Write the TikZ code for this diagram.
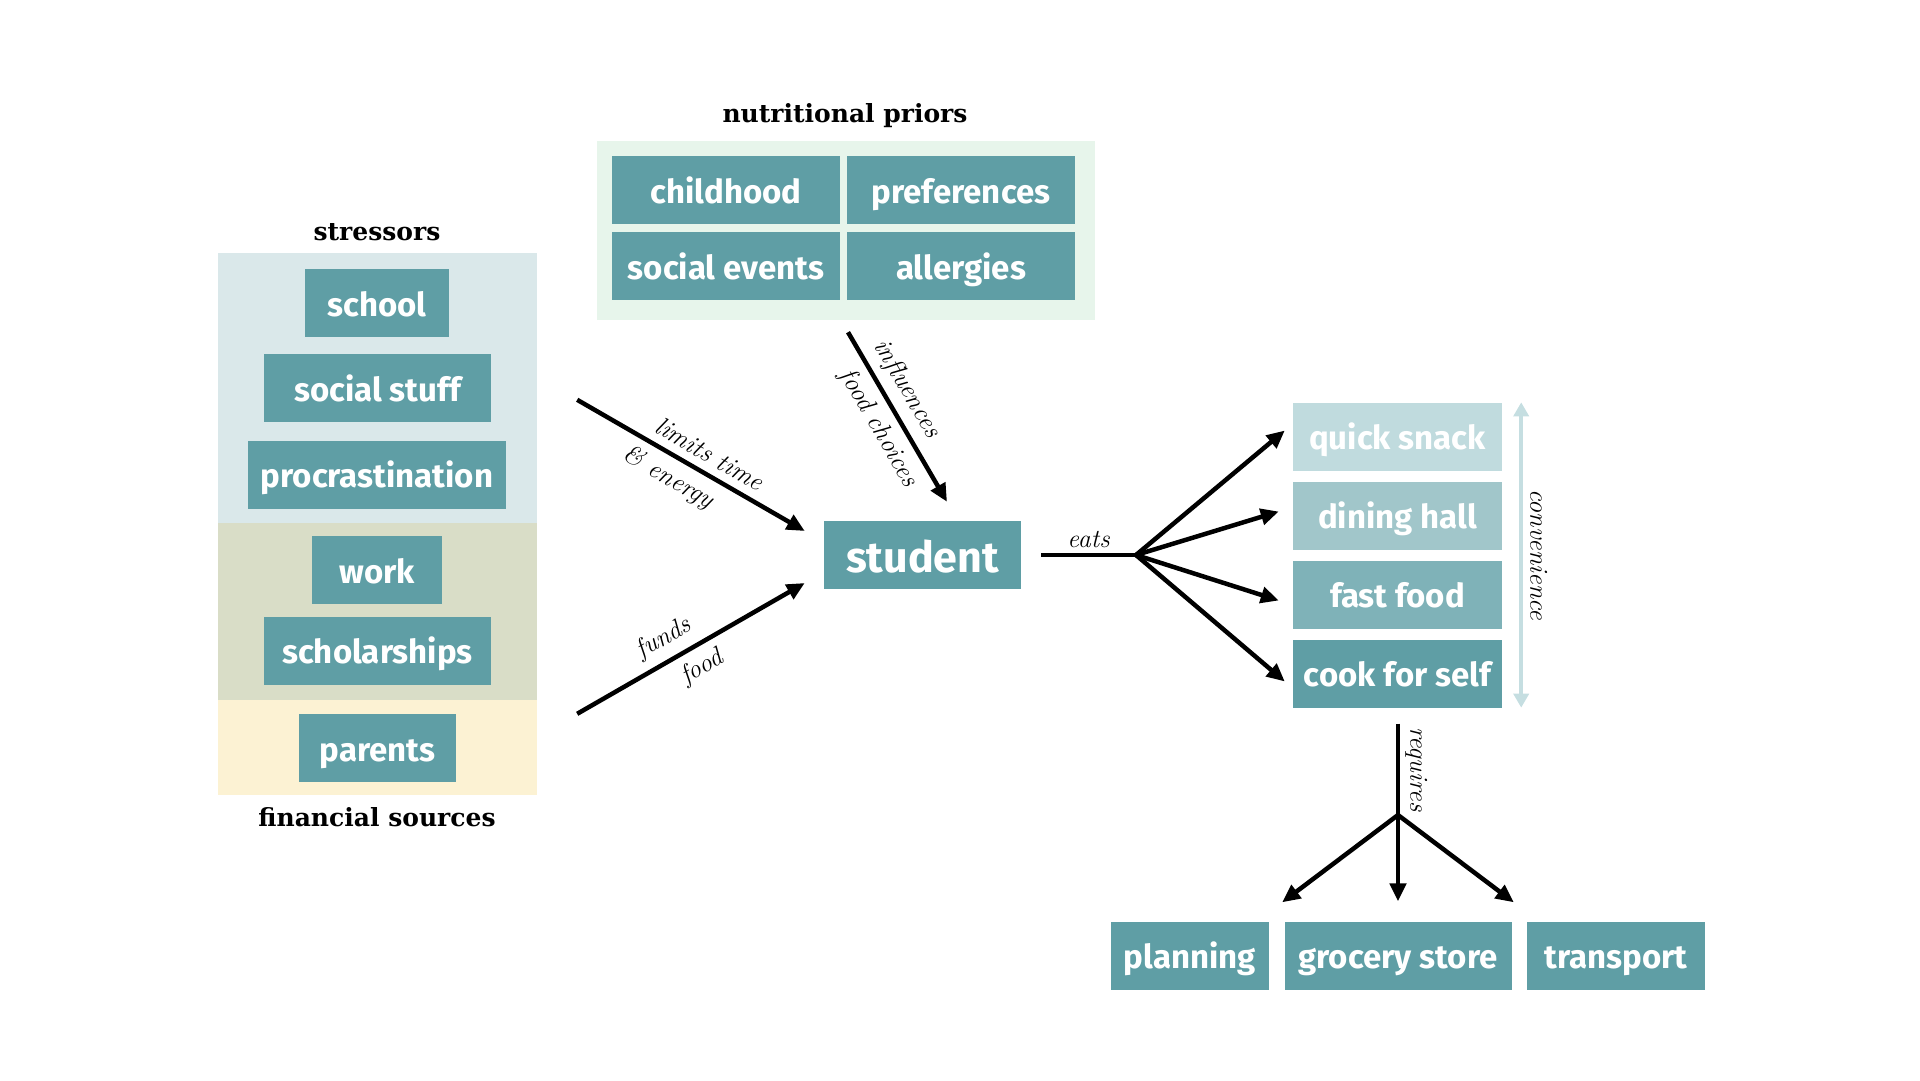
\documentclass[tikz,border=0pt]{standalone}
\usepackage{fontspec}
\usetikzlibrary{arrows.meta,calc}

\newfontfamily\boxfont{Fira Sans}
\newfontfamily\headfont{DejaVu Serif}

\definecolor{tealbox}{HTML}{5F9EA5}
\definecolor{snackbox}{HTML}{C0DBDE}
\definecolor{dinebox}{HTML}{A1C6CA}
\definecolor{fastbox}{HTML}{7FB2B8}
\definecolor{stressbg}{HTML}{DAE8EA}
\definecolor{workbg}{HTML}{D9DDC7}
\definecolor{parentbg}{HTML}{FCF2D3}
\definecolor{priorbg}{HTML}{E7F5EB}
\definecolor{convline}{HTML}{C5DEE1}

\begin{document}
\begin{tikzpicture}[x=1pt, y=-1pt,
    box/.style={fill=tealbox, text=white, inner sep=0pt, minimum height=68,
        text height=26pt, text depth=0pt,
        font=\boxfont\bfseries\fontsize{33}{38}\selectfont},
    band/.style={inner sep=0pt, minimum width=319},
    heading/.style={font=\headfont\bfseries\fontsize{25}{30}\selectfont},
    lbl/.style={font=\itshape\fontsize{26}{30}\selectfont, inner sep=8pt},
    link/.style={line width=4.5pt, -{Triangle[length=18pt,width=16pt]}},
    conv/.style={line width=4pt, draw=convline,
        {Triangle[length=14pt,width=15pt]}-{Triangle[length=14pt,width=15pt]}}]

\useasboundingbox (0,0) rectangle (1920,1080);

% colour bands behind the groups
\node[band, fill=stressbg, minimum height=270] (stressband) at (377.5,388) {};
\node[band, fill=workbg, minimum height=177] (workband) at (377.5,611.5) {};
\node[band, fill=parentbg, minimum height=95] (parentband) at (377.5,747.5) {};
\node[fill=priorbg, inner sep=0pt, minimum width=498, minimum height=179] (priorband) at (846,230.5) {};

% titles
\node[heading] (stresstitle) at (377,232) {stressors};
\node[heading] (priortitle) at (845,116) {nutritional priors};
\node[heading] (fintitle) at (377,817.5) {financial sources};

% left column
\node[box, minimum width=144] (school) at (377,303) {school};
\node[box, minimum width=227] (social) at (377.5,388) {social stuff};
\node[box, minimum width=258] (procr) at (377,474.5) {procrastination};
\node[box, minimum width=130] (work) at (377,570) {work};
\node[box, minimum width=227] (scholar) at (377.5,650.5) {scholarships};
\node[box, minimum width=157] (parents) at (377.5,748) {parents};

% priors grid
\node[box, minimum width=228] (childhood) at (726,190) {childhood};
\node[box, minimum width=228] (prefs) at (961,190) {preferences};
\node[box, minimum width=228] (events) at (726,266) {social events};
\node[box, minimum width=228] (allergies) at (961,266) {allergies};

% centre
\node[box, minimum width=197, text height=34pt,
    font=\boxfont\bfseries\fontsize{43}{50}\selectfont] (student) at (922.5,555) {student};

% what the student eats
\node[box, fill=snackbox, minimum width=209] (snack) at (1397.5,436.5) {quick snack};
\node[box, fill=dinebox, minimum width=209] (dining) at (1397.5,515.5) {dining hall};
\node[box, fill=fastbox, minimum width=209] (fastfood) at (1397.5,594.5) {fast food};
\node[box, minimum width=209] (cook) at (1397.5,673.5) {cook for self};

% what cooking needs
\node[box, minimum width=158] (planning) at (1190,955.5) {planning};
\node[box, minimum width=227] (grocery) at (1398,955.5) {grocery store};
\node[box, minimum width=178] (transport) at (1616,955.5) {transport};

% arrows into the student
\coordinate (stressout) at ($(stressband.north east)+(40,147)$);
\coordinate (fundsout) at ($(parentband.north east)+(40,14)$);
\draw[link] (stressout) -- node[lbl, sloped, above, pos=0.54] {limits time}
    node[lbl, sloped, below, pos=0.45] {\& energy} ($(student.west)+(-19,-24)$);
\draw[link] (fundsout) -- node[lbl, sloped, above, pos=0.43] {funds}
    node[lbl, sloped, below, pos=0.5] {food} ($(student.west)+(-19,28)$);
\draw[link] ($(priorband.south)+(2,12)$) -- node[lbl, sloped, above, pos=0.4] {influences}
    node[lbl, sloped, below, pos=0.5] {food choices} ($(student.north)+(24.5,-19)$);

% eats fan
\coordinate (eatsfork) at (1136,555);
\draw[line width=4.5pt] ($(student.east)+(20,0)$) -- node[lbl, above, inner sep=5pt] {eats} (eatsfork);
\foreach \dest/\dx/\dy in {snack/-8/-6, dining/-14/-4, fastfood/-14/6, cook/-8/8}
    \draw[link, line cap=round] (eatsfork) -- ($(\dest.west)+(\dx,\dy)$);

\draw[conv] ($(snack.north east)+(19,0)$) -- node[lbl, rotate=-90, anchor=south, inner sep=7pt]
    {convenience} ($(cook.south east)+(19,0)$);

% requires fan
\coordinate (reqfork) at (1398,815);
\draw[line width=4.5pt] ($(cook.south)+(0.5,16)$) -- node[lbl, rotate=-90, anchor=south, inner sep=5pt]
    {requires} (reqfork);
\draw[link, line cap=round] (reqfork) -- ($(planning.north east)+(13,-19)$);
\draw[link] (reqfork) -- ($(grocery.north)+(0,-20)$);
\draw[link, line cap=round] (reqfork) -- ($(transport.north west)+(-13,-19)$);

\end{tikzpicture}
\end{document}
